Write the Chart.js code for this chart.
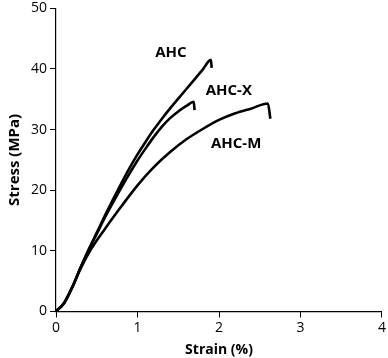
<!DOCTYPE html>
<html>
<head>
<meta charset="utf-8">
<script src="https://cdn.jsdelivr.net/npm/chart.js@4.4.0/dist/chart.umd.min.js"></script>
<style>
  html, body { margin: 0; padding: 0; background: #fff; overflow: hidden; }
  #wrap { width: 388px; height: 361px; margin-top: -3px; }
</style>
</head>
<body>
<div id="wrap"><canvas id="grafica"></canvas></div>
<script>
// datos (deformacion %, esfuerzo MPa)
const strainAHC = [0, 0.1, 0.2, 0.3, 0.4, 0.5, 0.6, 0.7, 0.8, 0.9, 1.0, 1.1, 1.2, 1.3, 1.4, 1.5, 1.6, 1.7, 1.8, 1.9, 1.91];
const stressAHC = [0, 1.4, 4.0, 7.2, 10.2, 13.0, 15.8, 18.5, 21.1, 23.6, 25.9, 28.0, 30.0, 31.8, 33.5, 35.1, 36.7, 38.3, 39.9, 41.5, 40.2];

const strainAHCX = [0, 0.1, 0.2, 0.3, 0.4, 0.5, 0.6, 0.7, 0.8, 0.9, 1.0, 1.1, 1.2, 1.3, 1.4, 1.5, 1.6, 1.69, 1.70];
const stressAHCX = [0, 1.4, 4.0, 7.2, 10.1, 12.8, 15.5, 18.0, 20.4, 22.7, 24.9, 26.9, 28.8, 30.5, 31.9, 33.0, 33.9, 34.6, 33.2];

const strainAHCM = [0, 0.1, 0.2, 0.3, 0.4, 0.6, 0.8, 1.0, 1.2, 1.4, 1.6, 1.8, 2.0, 2.2, 2.4, 2.6, 2.63];
const stressAHCM = [0, 1.4, 4.0, 7.0, 9.6, 13.6, 17.3, 20.8, 23.8, 26.3, 28.4, 30.1, 31.6, 32.7, 33.5, 34.3, 31.8];

const etiquetas = ['AHC', 'AHC-X', 'AHC-M'];
const posEtiquetas = [[1.41, 42.7], [2.12, 36.4], [2.21, 27.6]];

const xTicks = [0, 1, 2, 3, 4];
const yTicks = [0, 10, 20, 30, 40, 50];

function puntos(xs, ys) {
  return xs.map((x, i) => ({ x: x, y: ys[i] }));
}

const serie = (label, xs, ys) => ({
  label: label,
  data: puntos(xs, ys),
  showLine: true,
  borderColor: '#000',
  borderWidth: 2.6,
  pointRadius: 0,
  cubicInterpolationMode: 'monotone',
  fill: false
});

// etiquetas de texto sobre las curvas
const textoCurvas = {
  id: 'textoCurvas',
  afterDatasetsDraw(chart) {
    const ctx = chart.ctx;
    const xs = chart.scales.x, ys = chart.scales.y;
    ctx.save();
    ctx.font = 'bold 15px "Open Sans", sans-serif';
    ctx.fillStyle = '#000';
    ctx.textAlign = 'center';
    ctx.textBaseline = 'middle';
    etiquetas.forEach((t, i) => {
      ctx.fillText(t, xs.getPixelForValue(posEtiquetas[i][0]), ys.getPixelForValue(posEtiquetas[i][1]));
    });
    ctx.restore();
  }
};

Chart.defaults.font.family = '"Open Sans", sans-serif';
Chart.defaults.color = '#000';

const grafica = new Chart(document.getElementById('grafica'), {
  type: 'scatter',
  data: {
    datasets: [
      serie('AHC', strainAHC, stressAHC),
      serie('AHC-X', strainAHCX, stressAHCX),
      serie('AHC-M', strainAHCM, stressAHCM)
    ]
  },
  options: {
    responsive: true,
    maintainAspectRatio: false,
    animation: false,
    layout: { padding: { left: 6, right: 1, top: 0, bottom: 0 } },
    plugins: {
      legend: { display: false },
      tooltip: { enabled: false }
    },
    scales: {
      x: {
        type: 'linear',
        min: 0, max: 4,
        afterBuildTicks: (ax) => { ax.ticks = xTicks.map(v => ({ value: v })); },
        grid: { display: true, drawOnChartArea: false, drawTicks: true, tickLength: 6, color: '#000' },
        border: { color: '#000', width: 1.2 },
        ticks: { font: { size: 14 }, padding: 2, maxRotation: 0 },
        title: { display: true, text: 'Strain (%)', font: { size: 14, weight: 'bold' }, padding: { top: 3, bottom: 0 } }
      },
      y: {
        type: 'linear',
        min: 0, max: 50,
        afterBuildTicks: (ax) => { ax.ticks = yTicks.map(v => ({ value: v })); },
        grid: { display: true, drawOnChartArea: false, drawTicks: true, tickLength: 6, color: '#000' },
        border: { color: '#000', width: 1.2 },
        ticks: { font: { size: 14 }, padding: 3 },
        title: { display: true, text: 'Stress (MPa)', font: { size: 15, weight: 'bold' }, padding: { top: 0, bottom: 4 } }
      }
    }
  },
  plugins: [textoCurvas]
});
</script>
</body>
</html>
